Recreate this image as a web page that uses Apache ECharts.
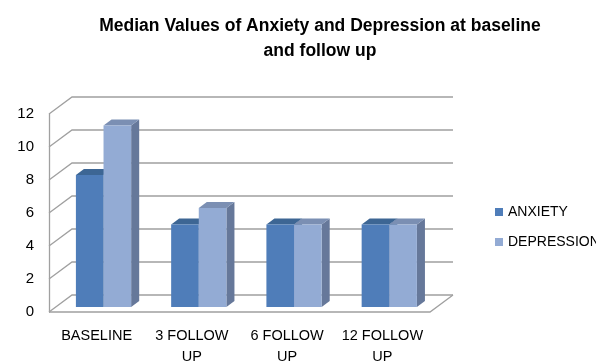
<!DOCTYPE html>
<html>
<head>
<meta charset="utf-8">
<script src="https://cdn.jsdelivr.net/npm/echarts@6/dist/echarts.min.js"></script>
<style>html,body{margin:0;padding:0;background:#fff}#c{width:596px;height:362px}</style>
</head>
<body>
<div id="c"></div>
<script>
const categories = ['BASELINE', '3 FOLLOW UP', '6 FOLLOW UP', '12 FOLLOW UP'];
const anxiety = [8, 5, 5, 5];
const depression = [11, 6, 5, 5];
const yTicks = [0, 2, 4, 6, 8, 10, 12];

const DX = 23, DY = -17;      // depth of the 3D box
const F0 = 0.3, F1 = 0.65;    // bar depth placement
const GRID_COLOR = '#a0a0a0';
const FONT = 'Liberation Sans';

function barRenderer(side, colors) {
  return function (params, api) {
    const i = api.value(0), v = api.value(1);
    const base = api.coord([i, 0]);
    const top = api.coord([i, v]);
    const w = api.size([1, 0])[0];
    const bw = w * 0.29;
    const ox = F0 * DX, oy = F0 * DY;
    const ddx = (F1 - F0) * DX, ddy = (F1 - F0) * DY;
    const xl = (side === 0 ? base[0] - bw : base[0]) + ox;
    const xr = xl + bw;
    const yt = top[1] + oy, yb = base[1] + oy;
    return {
      type: 'group',
      children: [
        { type: 'polygon', shape: { points: [[xr, yt], [xr + ddx, yt + ddy], [xr + ddx, yb + ddy], [xr, yb]] }, style: { fill: colors[2] } },
        { type: 'polygon', shape: { points: [[xl, yt], [xr, yt], [xr + ddx, yt + ddy], [xl + ddx, yt + ddy]] }, style: { fill: colors[1] } },
        { type: 'rect', shape: { x: xl, y: yt, width: bw, height: yb - yt }, style: { fill: colors[0] } }
      ]
    };
  };
}

const chart = echarts.init(document.getElementById('c'), null, { renderer: 'canvas' });
chart.setOption({
  animation: false,
  backgroundColor: '#fff',
  title: {
    text: 'Median Values of Anxiety and Depression at baseline\nand follow up',
    left: 315, top: 9,
    textAlign: 'center',
    textStyle: { fontFamily: FONT, fontWeight: 'bold', fontSize: 17.5, color: '#000', lineHeight: 25 }
  },
  legend: {
    orient: 'vertical', left: 490, top: 200, itemGap: 16,
    icon: 'rect', itemWidth: 8, itemHeight: 8,
    textStyle: { fontFamily: FONT, fontSize: 14, color: '#000' },
    data: ['ANXIETY', 'DEPRESSION']
  },
  grid: { left: 49, top: 114, width: 381, height: 198, outerBoundsMode: 'none', containLabel: false },
  xAxis: {
    type: 'category', data: categories,
    axisLine: { show: false }, axisTick: { show: false },
    axisLabel: {
      interval: 0, hideOverlap: false,
      margin: 13, fontFamily: FONT, fontSize: 14.5, color: '#000', lineHeight: 21,
      formatter: v => v.replace(' UP', '\nUP')
    }
  },
  yAxis: {
    type: 'value', min: 0, max: 12, interval: 2,
    axisLine: { show: true, lineStyle: { color: GRID_COLOR, width: 1.3 } },
    axisTick: { show: false }, splitLine: { show: false },
    axisLabel: { margin: 15, fontFamily: FONT, fontSize: 15, color: '#000' }
  },
  series: [
    {
      type: 'custom', name: 'walls', z: 1, silent: true,
      data: yTicks.map(v => [0, v]),
      renderItem: function (params, api) {
        const v = api.value(1);
        const w = api.size([1, 0])[0];
        const p = api.coord([0, v]);
        const q = api.coord([categories.length - 1, v]);
        const x0 = p[0] - w / 2, x1 = q[0] + w / 2, y = p[1];
        const ls = { stroke: GRID_COLOR, lineWidth: 1.3, fill: null };
        const children = [
          { type: 'polyline', shape: { points: [[x0, y], [x0 + DX, y + DY], [x1 + DX, y + DY]] }, style: ls }
        ];
        if (v === 0) {
          children.push({ type: 'polyline', shape: { points: [[x0, y], [x1, y], [x1 + DX, y + DY]] }, style: ls });
        }
        return { type: 'group', children: children };
      }
    },
    {
      type: 'custom', name: 'ANXIETY', z: 2,
      itemStyle: { color: '#4f7db9' },
      data: anxiety.map((v, i) => [i, v]),
      renderItem: barRenderer(0, ['#4f7db9', '#3d6694', '#3a5d86'])
    },
    {
      type: 'custom', name: 'DEPRESSION', z: 3,
      itemStyle: { color: '#93abd4' },
      data: depression.map((v, i) => [i, v]),
      renderItem: barRenderer(1, ['#93abd4', '#7b8fb3', '#66789a'])
    }
  ]
});
</script>
</body>
</html>
